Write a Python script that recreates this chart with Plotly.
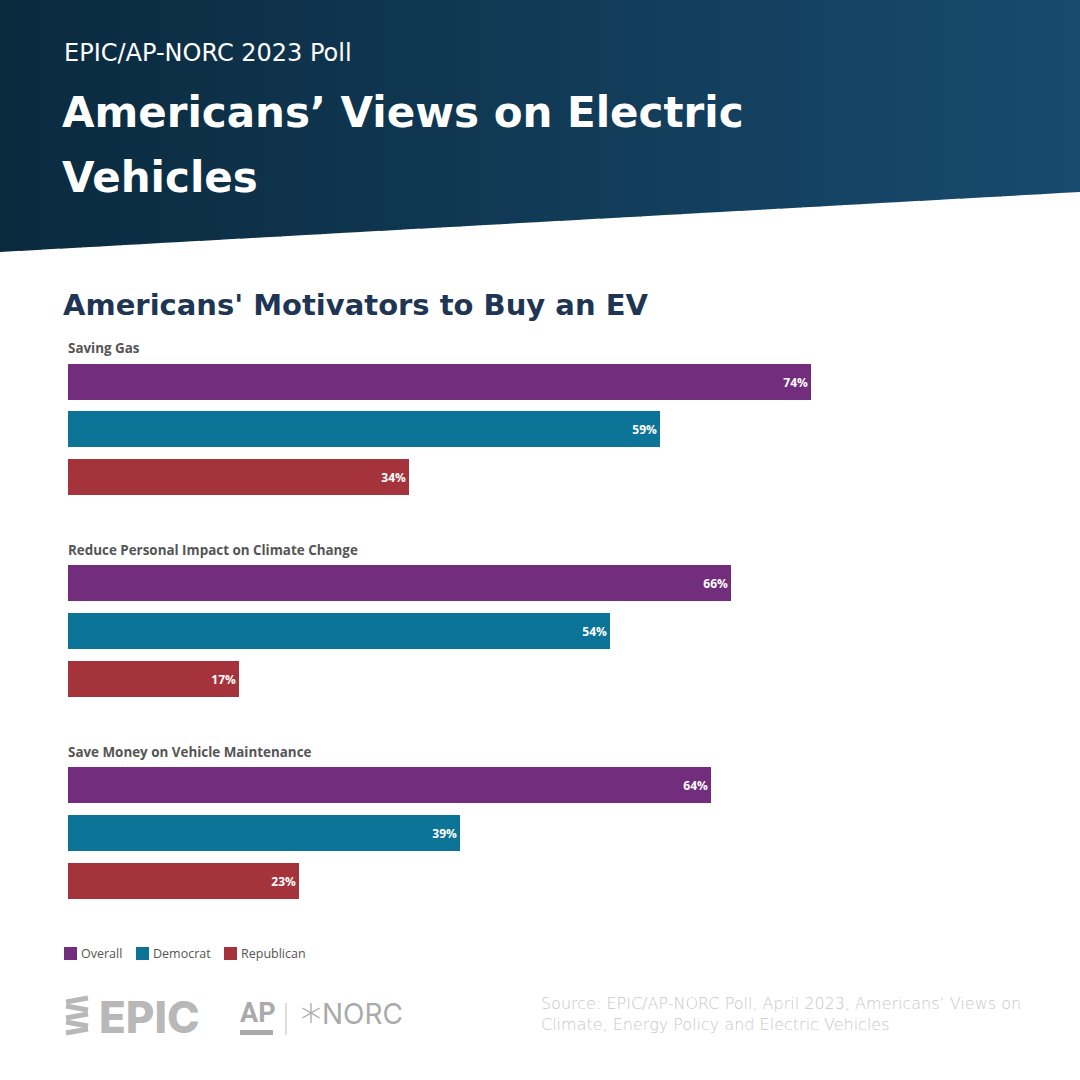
import plotly.graph_objects as go
import math

# ---------------- data ----------------
categories = ["Saving Gas",
              "Reduce Personal Impact on Climate Change",
              "Save Money on Vehicle Maintenance"]
series_names = ["Overall", "Democrat", "Republican"]
overall = [74, 66, 64]
democrat = [59, 54, 39]
republican = [34, 17, 23]
series_values = [overall, democrat, republican]
series_colors = ["#732d7d", "#0b7497", "#a5333b"]

W = H = 1080
GROUP_PITCH = 4.23  # slots between group starts


def px_x(p):
    return p / W


def px_y(p):
    return 1 - p / H


fig = go.Figure()

for s, (name, vals, col) in enumerate(zip(series_names, series_values, series_colors)):
    ys = [g * GROUP_PITCH + s for g in range(len(categories))]
    fig.add_trace(go.Bar(
        x=vals, y=ys, orientation="h", name=name,
        marker=dict(color=col, line=dict(width=0)),
        width=0.754,
        text=[f"{v}%" for v in vals],
        textposition="inside", insidetextanchor="end",
        textfont=dict(family="Open Sans", size=12, color="white", weight=700),
        cliponaxis=False, showlegend=False,
        hoverinfo="skip",
    ))

# y axis mapping: pixel = 381.5 + y*47.75
top_px, bot_px = 330, 920
slot = 47.75
y_top = (top_px - 381.5) / slot
y_bot = (bot_px - 381.5) / slot

fig.update_layout(
    width=W, height=H,
    margin=dict(l=0, r=0, t=0, b=0),
    paper_bgcolor="white", plot_bgcolor="white",
    bargap=0,
    xaxis=dict(domain=[68 / W, 1072 / W], range=[0, 100], visible=False, fixedrange=True),
    yaxis=dict(domain=[px_y(bot_px), px_y(top_px)], range=[y_bot, y_top],
               visible=False, fixedrange=True),
)

shapes = []
annotations = []

# ---------------- header gradient ----------------
def lerp(c1, c2, t):
    return "#%02x%02x%02x" % tuple(int(round(a + (b - a) * t)) for a, b in zip(c1, c2))

c_left = (10, 42, 62)
c_right = (24, 74, 110)
n = 54
for i in range(n):
    x0 = i * W / n
    x1 = (i + 1) * W / n + 0.8
    yb0 = 252 - 60 * x0 / W
    yb1 = 252 - 60 * x1 / W
    col = lerp(c_left, c_right, (i + 0.5) / n)
    path = (f"M {px_x(x0)} {px_y(0)} L {px_x(x1)} {px_y(0)} "
            f"L {px_x(x1)} {px_y(yb1)} L {px_x(x0)} {px_y(yb0)} Z")
    shapes.append(dict(type="path", xref="paper", yref="paper", path=path,
                       fillcolor=col, line=dict(width=0), layer="below"))

HEAD_FONT = "DejaVu Sans"
annotations.append(dict(text="EPIC/AP-NORC 2023 Poll", x=px_x(62), y=px_y(53),
                        xref="paper", yref="paper", xanchor="left", yanchor="middle",
                        showarrow=False,
                        font=dict(family=HEAD_FONT, size=24, color="white", weight=400)))
annotations.append(dict(text="Americans’ Views on Electric", x=px_x(60), y=px_y(112),
                        xref="paper", yref="paper", xanchor="left", yanchor="middle",
                        showarrow=False,
                        font=dict(family=HEAD_FONT, size=42, color="white", weight=700)))
annotations.append(dict(text="Vehicles", x=px_x(60), y=px_y(178),
                        xref="paper", yref="paper", xanchor="left", yanchor="middle",
                        showarrow=False,
                        font=dict(family=HEAD_FONT, size=42, color="white", weight=700)))

# ---------------- chart subtitle ----------------
annotations.append(dict(text="Americans' Motivators to Buy an EV", x=px_x(61), y=px_y(305),
                        xref="paper", yref="paper", xanchor="left", yanchor="middle",
                        showarrow=False,
                        font=dict(family=HEAD_FONT, size=29, color="#1e3553", weight=700)))

# group labels
for g, cat in enumerate(categories):
    annotations.append(dict(text=cat, x=px_x(66), y=g * GROUP_PITCH - 0.70,
                            xref="paper", yref="y", xanchor="left", yanchor="middle",
                            showarrow=False,
                            font=dict(family="Open Sans", size=13.4, color="#555555", weight=700)))

# ---------------- legend (manual) ----------------
legend_x = [64, 136, 224]
for lx, name, col in zip(legend_x, series_names, series_colors):
    shapes.append(dict(type="rect", xref="paper", yref="paper",
                       x0=px_x(lx), x1=px_x(lx + 13), y0=px_y(960), y1=px_y(947),
                       fillcolor=col, line=dict(width=0)))
    annotations.append(dict(text=name, x=px_x(lx + 15), y=px_y(953.5),
                            xref="paper", yref="paper", xanchor="left", yanchor="middle",
                            showarrow=False,
                            font=dict(family="Open Sans", size=12.5, color="#555555")))

# ---------------- logos ----------------
logo_gray = "#b8b8b8"
# EPIC spring-like stripes icon
stripe_rows = [1000, 1008, 1016, 1024, 1031]
for k, yc in enumerate(stripe_rows):
    slope = -4 if k % 2 == 0 else 4
    shapes.append(dict(type="line", xref="paper", yref="paper",
                       x0=px_x(66), y0=px_y(yc - slope / 2),
                       x1=px_x(88), y1=px_y(yc + slope / 2),
                       line=dict(color=logo_gray, width=5)))
annotations.append(dict(text="EPIC", x=px_x(97), y=px_y(1017),
                        xref="paper", yref="paper", xanchor="left", yanchor="middle",
                        showarrow=False,
                        font=dict(family="Inter", size=44, color=logo_gray, weight=800)))
annotations.append(dict(text="AP", x=px_x(238), y=px_y(1013),
                        xref="paper", yref="paper", xanchor="left", yanchor="middle",
                        showarrow=False,
                        font=dict(family="Roboto", size=27, color="#aaaaaa", weight=700)))
shapes.append(dict(type="rect", xref="paper", yref="paper",
                   x0=px_x(240), x1=px_x(273), y0=px_y(1035), y1=px_y(1030),
                   fillcolor="#aaaaaa", line=dict(width=0)))
shapes.append(dict(type="line", xref="paper", yref="paper",
                   x0=px_x(286), x1=px_x(286), y0=px_y(1003), y1=px_y(1035),
                   line=dict(color="#bbbbbb", width=1)))
# asterisk
for ang in (90, 30, -30):
    dx = 10 * math.cos(math.radians(ang))
    dy = 10 * math.sin(math.radians(ang))
    shapes.append(dict(type="line", xref="paper", yref="paper",
                       x0=px_x(311 - dx), x1=px_x(311 + dx),
                       y0=px_y(1013 + dy), y1=px_y(1013 - dy),
                       line=dict(color="#aaaaaa", width=1.3)))
annotations.append(dict(text="NORC", x=px_x(320), y=px_y(1014),
                        xref="paper", yref="paper", xanchor="left", yanchor="middle",
                        showarrow=False,
                        font=dict(family="Inter", size=28, color="#aaaaaa", weight=400)))

# source
annotations.append(dict(text="Source: EPIC/AP-NORC Poll, April 2023, Americans’ Views on<br>"
                             "Climate, Energy Policy and Electric Vehicles",
                        x=px_x(539), y=px_y(1014), xref="paper", yref="paper",
                        xanchor="left", yanchor="middle", align="left", showarrow=False,
                        font=dict(family="DejaVu Sans", size=16, color="#c8c8c8", weight=200)))

fig.update_layout(shapes=shapes, annotations=annotations)
fig.write_html("out.html")
